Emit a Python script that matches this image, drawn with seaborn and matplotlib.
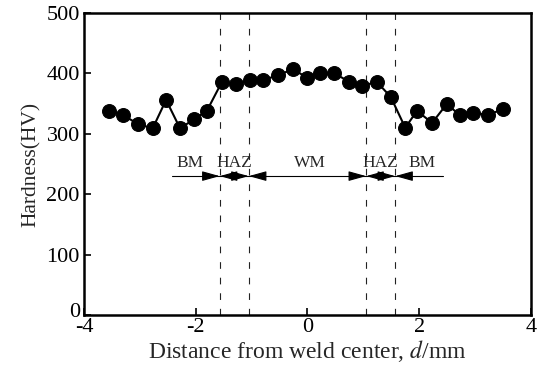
import matplotlib
matplotlib.use("Agg")
import matplotlib.pyplot as plt
import matplotlib.transforms as mtransforms
import seaborn as sns
import pandas as pd

distance = [-3.55, -3.30, -3.03, -2.77, -2.53, -2.28, -2.03, -1.80, -1.53, -1.27,
            -1.02, -0.79, -0.52, -0.26, -0.01, 0.22, 0.48, 0.75, 0.97, 1.24,
            1.49, 1.75, 1.96, 2.23, 2.49, 2.73, 2.97, 3.23, 3.50]
hardness = [338, 331, 316, 309, 356, 309, 324, 338, 386, 382,
            389, 389, 397, 407, 393, 401, 400, 386, 379, 386,
            361, 310, 338, 318, 349, 331, 335, 331, 341]
boundaries = [-2.43, -1.57, -1.05, 1.05, 1.57, 2.43]
zone_labels = ["BM", "HAZ", "WM", "HAZ", "BM"]
zone_label_x = [-2.10, -1.31, 0.04, 1.30, 2.05]

sns.set_theme(style="ticks")
plt.rcParams['font.family'] = ['Liberation Serif', 'DejaVu Serif']
plt.rcParams['mathtext.fontset'] = 'stix'

df = pd.DataFrame({"d": distance, "hv": hardness})

fig = plt.figure(figsize=(5.38, 3.69), dpi=100)
ax = fig.add_axes([0.156, 0.146, 0.831, 0.819])

sns.lineplot(data=df, x="d", y="hv", ax=ax, color="black", linewidth=1.5,
             marker="o", markersize=10, markeredgecolor="black",
             markerfacecolor="black", zorder=5)

for b in boundaries[1:-1]:
    ax.axvline(b, color="#222222", linestyle=(0, (6, 8)), linewidth=0.8, zorder=1)

arrow_y = 230
ax.plot([boundaries[0], boundaries[-1]], [arrow_y, arrow_y], color="black", lw=0.8)
astyle = "-|>,head_length=0.9,head_width=0.25"
for i in range(len(zone_labels)):
    x0, x1 = boundaries[i], boundaries[i + 1]
    if i > 0:
        ax.annotate("", xy=(x0, arrow_y), xytext=(x0 + 0.25, arrow_y),
                    arrowprops=dict(arrowstyle=astyle, color="black", lw=0.8,
                                    shrinkA=0, shrinkB=0))
    if i < len(zone_labels) - 1:
        ax.annotate("", xy=(x1, arrow_y), xytext=(x1 - 0.25, arrow_y),
                    arrowprops=dict(arrowstyle=astyle, color="black", lw=0.8,
                                    shrinkA=0, shrinkB=0))
    ax.text(zone_label_x[i], arrow_y + 9, zone_labels[i], ha="center", va="bottom",
            fontsize=12.5)

ax.set_xlim(-4, 4)
ax.set_ylim(0, 500)
ax.set_xticks([-4, -2, 0, 2, 4])
ax.set_xticklabels(["-4", "-2", "0", "2", "4"])
ax.set_yticks([0, 100, 200, 300, 400, 500])
ax.tick_params(direction="in", length=5, width=1.2, labelsize=16, colors="black", pad=2)
ax.tick_params(axis="y", right=False, pad=3)
for s in ax.spines.values():
    s.set_linewidth(1.8)
    s.set_color("black")
    s.set_visible(True)

ax.set_xlabel("Distance from weld center, $\\mathit{d}$/mm", fontsize=17, labelpad=1)
ax.set_ylabel("Hardness(HV)", fontsize=15.5, labelpad=4)

# nudge the "0" y tick label up slightly so it does not collide with "-4"
ylab0 = ax.get_yticklabels()[0]
ylab0.set_transform(ylab0.get_transform() +
                    mtransforms.ScaledTranslation(0, 4 / 72, fig.dpi_scale_trans))

fig.savefig("out.png", dpi=100)
